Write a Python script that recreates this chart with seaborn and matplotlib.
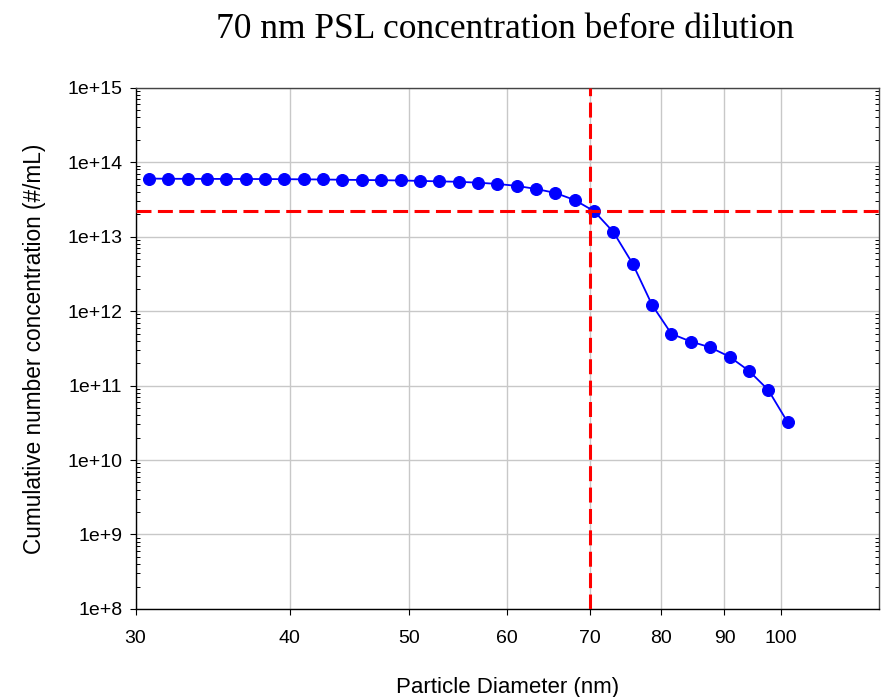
import numpy as np
import pandas as pd
import matplotlib
matplotlib.use("Agg")
import matplotlib.pyplot as plt
import seaborn as sns
from matplotlib.ticker import FixedLocator, NullLocator, LogLocator, FixedFormatter

# ---- data ----
diameter_nm = [30.76, 31.89, 33.06, 34.28, 35.54, 36.85, 38.20, 39.60, 41.06, 42.57,
               44.13, 45.76, 47.44, 49.18, 50.99, 52.86, 54.81, 56.82, 58.91, 61.08,
               63.32, 65.65, 68.06, 70.56, 73.16, 75.85, 78.63, 81.52, 84.52, 87.63,
               90.85, 94.19, 97.65, 101.24]
cum_conc = [6.02e13, 5.98e13, 5.97e13, 5.96e13, 5.95e13, 5.94e13, 5.93e13, 5.91e13, 5.88e13, 5.85e13,
            5.80e13, 5.76e13, 5.72e13, 5.68e13, 5.60e13, 5.52e13, 5.45e13, 5.30e13, 5.10e13, 4.80e13,
            4.37e13, 3.86e13, 3.10e13, 2.20e13, 1.15e13, 4.30e12, 1.21e12, 4.95e11, 3.90e11, 3.26e11,
            2.44e11, 1.58e11, 8.75e10, 3.23e10]
ref_diameter = 70
ref_conc = 2.2e13

x_ticks = [30, 40, 50, 60, 70, 80, 90, 100]
x_tick_labels = ["30", "40", "50", "60", "70", "80", "90", "100"]
y_ticks = [1e8, 1e9, 1e10, 1e11, 1e12, 1e13, 1e14, 1e15]
y_tick_labels = ["1e+8", "1e+9", "1e+10", "1e+11", "1e+12", "1e+13", "1e+14", "1e+15"]

title = "70 nm PSL concentration before dilution"
xlabel = "Particle Diameter (nm)"
ylabel = "Cumulative number concentration (#/mL)"

df = pd.DataFrame({"d": diameter_nm, "n": cum_conc})

sns.set_style("white")
plt.rcParams["font.family"] = ["Liberation Sans", "DejaVu Sans"]
plt.rcParams["text.color"] = "black"
plt.rcParams["axes.labelcolor"] = "black"
plt.rcParams["xtick.color"] = "black"
plt.rcParams["ytick.color"] = "black"

fig = plt.figure(figsize=(8.84, 6.97), dpi=100)
ax = fig.add_axes([0.1533, 0.1263, 0.9940 - 0.1533, 0.8742 - 0.1263])

ax.set_xscale("log")
ax.set_yscale("log")

sns.lineplot(data=df, x="d", y="n", ax=ax, color="#0000ff", linewidth=1.3,
             marker="o", markersize=8.6, markeredgecolor="#0000ff",
             markerfacecolor="#0000ff", zorder=3)

ax.axhline(ref_conc, color="#ff0000", linewidth=2.2, dashes=(4.9, 2.1), zorder=4)
ax.axvline(ref_diameter, color="#ff0000", linewidth=2.2, dashes=(4.9, 2.1), zorder=4)

ax.set_xlim(30, 120)
ax.set_ylim(1e8, 1e15)

ax.xaxis.set_major_locator(FixedLocator(x_ticks))
ax.xaxis.set_major_formatter(FixedFormatter(x_tick_labels))
ax.xaxis.set_minor_locator(NullLocator())
ax.yaxis.set_major_locator(FixedLocator(y_ticks))
ax.yaxis.set_major_formatter(FixedFormatter(y_tick_labels))
ax.yaxis.set_minor_locator(LogLocator(base=10, subs=np.arange(2, 10), numticks=100))

ax.grid(True, which="major", color="#c8c8c8", linewidth=1.0)
ax.set_axisbelow(True)

for side in ["left", "bottom"]:
    ax.spines[side].set_color("black")
    ax.spines[side].set_linewidth(1.0)
for side in ["top", "right"]:
    ax.spines[side].set_color("#444444")
    ax.spines[side].set_linewidth(1.0)
    ax.spines[side].set_visible(True)

ax.tick_params(axis="x", which="major", direction="out", length=4.5, width=0.8,
               color="black", labelcolor="black", labelsize=14, pad=11, bottom=True)
ax.tick_params(axis="y", which="major", direction="out", length=4.5, width=0.8,
               color="black", labelcolor="black", labelsize=14, pad=5, left=True, right=False)
ax.tick_params(axis="y", which="minor", direction="in", length=3, width=0.7,
               color="black", left=True, right=True)

ax.set_xlabel(xlabel, fontsize=16, labelpad=21, color="black")
ax.set_ylabel(ylabel, fontsize=16.3, labelpad=15, color="black")

fig.text(0.571, 0.958, title, family=["Liberation Serif", "DejaVu Serif"],
         fontsize=25.5, ha="center", va="center", color="black")

fig.savefig("out.png", dpi=100)
